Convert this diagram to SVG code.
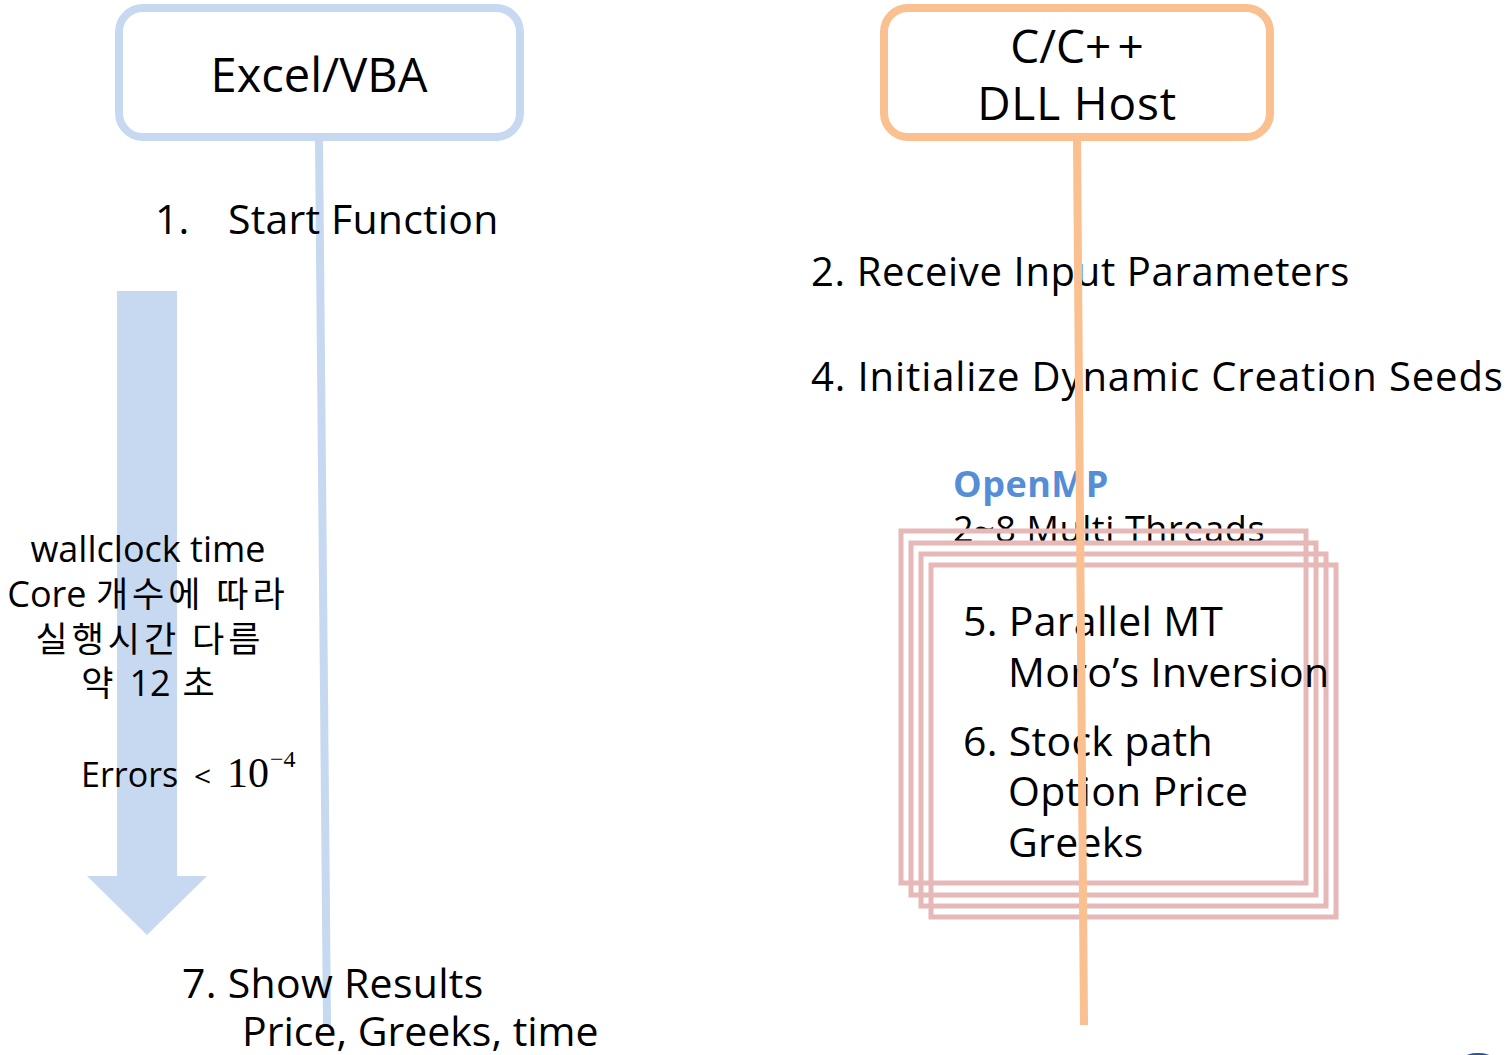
<svg xmlns="http://www.w3.org/2000/svg" width="1506" height="1055" viewBox="0 0 1506 1055">
  <style>
    .t { font-family: "Open Sans", "Noto Sans CJK KR", sans-serif; fill: #000; }
    .ko { font-family: "Noto Sans CJK KR", sans-serif; font-size: 35px; letter-spacing: 4px; }
    .box-excel { fill: #fff; stroke: #c6d9f1; stroke-width: 8; }
    .box-dll { fill: #fff; stroke: #fac090; stroke-width: 8; }
    .thread { fill: none; stroke: #e6b9b8; stroke-width: 5; }
    .life-blue { stroke: #c6d9f1; stroke-width: 8; }
    .life-orange { stroke: #fac090; stroke-width: 8; }
  </style>
  <rect width="1506" height="1055" fill="#fff"/>

  <!-- elapsed-time arrow -->
  <g id="time-arrow">
    <polygon points="117,291 177,291 177,876 207,876 147,935 87,876 117,876" fill="#c6d9f1"/>
  </g>

  <!-- lifeline of Excel side -->
  <g id="connectors-left">
    <line class="life-blue" x1="319" y1="140" x2="327" y2="1025"/>
  </g>

  <!-- Excel/VBA node -->
  <g id="excel-vba">
    <rect class="box-excel" x="119" y="8" width="401" height="129" rx="24"/>
    <text class="t" x="319" y="92" font-size="47" text-anchor="middle">Excel/VBA</text>
  </g>

  <!-- C/C++ DLL host node -->
  <g id="dll-host">
    <rect class="box-dll" x="884" y="8" width="386" height="129" rx="24"/>
    <text class="t" x="1077" y="63" font-size="46" text-anchor="middle">C/C<tspan letter-spacing="6">+</tspan>+</text>
    <text class="t" x="1077" y="120" font-size="46" letter-spacing="0.8" text-anchor="middle">DLL Host</text>
  </g>

  <!-- step texts -->
  <g id="step-1">
    <text class="t" x="155" y="234" font-size="41">1.</text>
    <text class="t" x="228" y="234" font-size="41" letter-spacing="0.2">Start Function</text>
  </g>

  <g id="timing-note">
    <text class="t" x="148" y="562" font-size="36" text-anchor="middle">wallclock time</text>
    <text class="t" x="148" y="607" font-size="36" text-anchor="middle">Core <tspan class="ko">개수에 따라</tspan></text>
    <text class="t" x="150" y="652" font-size="36" text-anchor="middle"><tspan class="ko">실행시간 다름</tspan></text>
    <text class="t" x="150" y="696" font-size="36" text-anchor="middle"><tspan class="ko">약 </tspan>12<tspan class="ko"> 초</tspan></text>
    <text class="t" x="81" y="787" font-size="34">Errors</text>
    <text class="t" x="194" y="787" font-size="30">&lt;</text>
    <text x="227" y="787" font-size="42" font-family="Liberation Serif, serif">10</text>
    <text x="270" y="767" font-size="24" font-family="Liberation Serif, serif">−4</text>
  </g>

  <g id="step-7">
    <text class="t" x="182" y="998" font-size="41" letter-spacing="0.3">7. Show Results</text>
    <text class="t" x="242" y="1046" font-size="41">Price, Greeks, time</text>
  </g>

  <g id="step-2">
    <text class="t" x="811" y="286" font-size="40" letter-spacing="0.65">2. Receive Input Parameters</text>
  </g>
  <g id="step-4">
    <text class="t" x="811" y="391" font-size="40" letter-spacing="0.9">4. Initialize Dynamic Creation Seeds</text>
  </g>

  <!-- parallel threads -->
  <g id="openmp-threads">
    <text x="953" y="497" font-size="36" font-weight="bold" letter-spacing="0.5" fill="#558ed5" font-family="Open Sans, sans-serif">OpenMP</text>
    <text class="t" x="953" y="542" font-size="36" letter-spacing="0.6">2~8 Multi Threads</text>
    <rect class="thread" x="901" y="531" width="405" height="352"/>
    <rect class="thread" x="911" y="543" width="405" height="352"/>
    <rect class="thread" x="921" y="554" width="405" height="352"/>
    <rect class="thread" x="931" y="565" width="405" height="352"/>
    <text class="t" x="963" y="636" font-size="41" letter-spacing="0.3">5. Parallel MT</text>
    <text class="t" x="1008" y="687" font-size="41" letter-spacing="0.3">Moro’s Inversion</text>
    <text class="t" x="963" y="756" font-size="41" letter-spacing="0.3">6. Stock path</text>
    <text class="t" x="1008" y="806" font-size="41" letter-spacing="0.3">Option Price</text>
    <text class="t" x="1008" y="857" font-size="41" letter-spacing="0.3">Greeks</text>
  </g>

  <!-- lifeline of DLL side -->
  <g id="connectors-right">
    <line class="life-orange" x1="1077" y1="140" x2="1084" y2="1025"/>
  </g>

  <ellipse cx="1478" cy="1058" rx="14" ry="5" fill="#2f4f8f"/>
</svg>
